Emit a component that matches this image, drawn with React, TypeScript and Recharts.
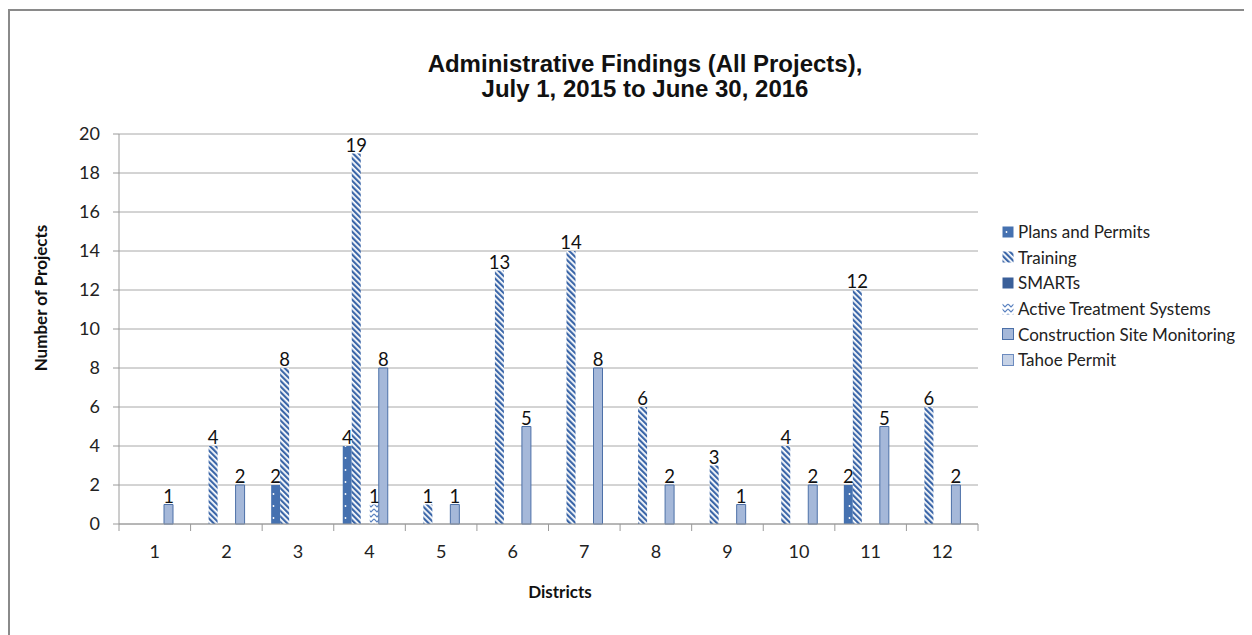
import { Bar, BarChart, CartesianGrid, LabelList, XAxis, YAxis } from 'recharts'

const districts = ['1', '2', '3', '4', '5', '6', '7', '8', '9', '10', '11', '12']
const plansPermits = [null, null, 2, 4, null, null, null, null, null, null, 2, null]
const training = [null, 4, 8, 19, 1, 13, 14, 6, 3, 4, 12, 6]
const smarts = [null, null, null, null, null, null, null, null, null, null, null, null]
const activeTreatment = [null, null, null, 1, null, null, null, null, null, null, null, null]
const siteMonitoring = [1, 2, null, 8, 1, 5, 8, 2, 1, 2, 5, 2]
const tahoePermit = [null, null, null, null, null, null, null, null, null, null, null, null]
const yTicks = [0, 2, 4, 6, 8, 10, 12, 14, 16, 18, 20]

const data = districts.map((d, i) => ({
  district: d,
  plans: plansPermits[i],
  training: training[i],
  smarts: smarts[i],
  ats: activeTreatment[i],
  csm: siteMonitoring[i],
  tahoe: tahoePermit[i],
}))

const series = [
  { key: 'plans', name: 'Plans and Permits', fill: 'url(#pDots)', stroke: 'none' },
  { key: 'training', name: 'Training', fill: 'url(#pStripes)', stroke: 'none' },
  { key: 'smarts', name: 'SMARTs', fill: '#3A5F99', stroke: 'none' },
  { key: 'ats', name: 'Active Treatment Systems', fill: 'url(#pChevron)', stroke: 'none' },
  { key: 'csm', name: 'Construction Site Monitoring', fill: '#A5B8D9', stroke: '#4C70A8' },
  { key: 'tahoe', name: 'Tahoe Permit', fill: '#C6D2E6', stroke: '#6C8BBF' },
]

const FONT = 'Lato, "Open Sans", sans-serif'
const BAND = 859 / 12

const XTick = (props: any) => {
  const { x, y, payload, index } = props
  return (
    <g>
      <line x1={x - BAND / 2} x2={x - BAND / 2} y1={y} y2={y + 7} stroke="#9A9A9A" />
      {index === districts.length - 1 && (
        <line x1={x + BAND / 2} x2={x + BAND / 2} y1={y} y2={y + 7} stroke="#9A9A9A" />
      )}
      <text x={x} y={y + 34} textAnchor="middle" fontSize={18} fontFamily={FONT} fill="#222">
        {payload.value}
      </text>
    </g>
  )
}

const barLabel = (props: any) => {
  const { x, y, width, value } = props
  if (value == null || value === 0) return null
  return (
    <text x={x + width / 2} y={y - 2} textAnchor="middle" fontSize={18.5} fontFamily={FONT} fill="#111">
      {value}
    </text>
  )
}

const LegendBox = () => (
  <div
    style={{
      position: 'absolute',
      left: 994,
      top: 211,
      width: 250,
      fontFamily: FONT,
      fontSize: 17,
      color: '#222',
      whiteSpace: 'nowrap',
    }}
  >
    {series.map(s => (
      <div key={s.key} style={{ display: 'flex', alignItems: 'center', height: 25.6 }}>
        <svg width={12} height={12} style={{ marginRight: 4 }}>
          <rect x={0.5} y={0.5} width={11} height={11} fill={s.fill} stroke={s.stroke} />
        </svg>
        <span>{s.name}</span>
      </div>
    ))}
  </div>
)

export default function App() {
  return (
    <div style={{ position: 'relative', width: 1244, height: 627, overflow: 'hidden' }}>
      <style>{'html, body { overflow: hidden; }'}</style>
      <div
        style={{
          position: 'absolute',
          left: 0,
          top: 1,
          width: 1300,
          height: 700,
          borderLeft: '2px solid #8A8A8A',
          borderTop: '2px solid #8A8A8A',
          boxSizing: 'border-box',
        }}
      />
      <div
        style={{
          position: 'absolute',
          left: 337,
          top: 43,
          width: 600,
          textAlign: 'center',
          fontFamily: '"Liberation Sans", Arial, sans-serif',
          fontWeight: 'bold',
          fontSize: 24,
          lineHeight: '25px',
          color: '#111',
        }}
      >
        Administrative Findings (All Projects),
        <br />
        July 1, 2015 to June 30, 2016
      </div>
      <div
        style={{
          position: 'absolute',
          left: 32,
          top: 290,
          transform: 'translate(-50%, -50%) rotate(-90deg)',
          whiteSpace: 'nowrap',
          fontFamily: FONT,
          fontWeight: 'bold',
          fontSize: 17,
          color: '#111',
        }}
      >
        Number of Projects
      </div>
      <div
        style={{
          position: 'absolute',
          left: 552,
          top: 583,
          transform: 'translate(-50%, -50%)',
          fontFamily: FONT,
          fontWeight: 'bold',
          fontSize: 17,
          color: '#111',
        }}
      >
        Districts
      </div>
      <div style={{ position: 'absolute', left: 0, top: 0 }}>
        <BarChart
          width={1244}
          height={627}
          data={data}
          margin={{ top: 126, right: 274, left: 0, bottom: 81 }}
          barSize={9}
          barGap={0}
        >
          <defs>
            <pattern id="pDots" patternUnits="userSpaceOnUse" width={9} height={12}>
              <rect width={9} height={12} fill="#4571B0" />
              <circle cx={4.5} cy={6} r={0.9} fill="#FFFFFF" />
            </pattern>
            <pattern
              id="pStripes"
              patternUnits="userSpaceOnUse"
              width={4}
              height={4}
              patternTransform="rotate(-45)"
            >
              <rect width={4} height={4} fill="#FFFFFF" />
              <rect width={2.2} height={4} fill="#3B66A8" />
            </pattern>
            <pattern id="pChevron" patternUnits="userSpaceOnUse" width={6} height={5}>
              <rect width={6} height={5} fill="#FFFFFF" />
              <path d="M0,1 L3,4 L6,1" stroke="#5A82C0" strokeWidth={1.2} fill="none" />
            </pattern>
          </defs>
          <CartesianGrid vertical={false} stroke="#A8A8A8" />
          <XAxis
            dataKey="district"
            height={30}
            axisLine={{ stroke: '#9A9A9A' }}
            tickLine={false}
            tickSize={0}
            tickMargin={0}
            interval={0}
            tick={<XTick />}
          />
          <YAxis
            width={111}
            domain={[0, 20]}
            ticks={yTicks}
            axisLine={{ stroke: '#9A9A9A' }}
            tickLine={{ stroke: '#9A9A9A' }}
            tickSize={6}
            tickMargin={13}
            tick={{ fontSize: 18, fontFamily: FONT, fill: '#222' }}
          />
          {series.map(s => (
            <Bar
              key={s.key}
              dataKey={s.key}
              name={s.name}
              fill={s.fill}
              stroke={s.stroke}
              strokeWidth={1}
              isAnimationActive={false}
            >
              <LabelList dataKey={s.key} content={barLabel} />
            </Bar>
          ))}
        </BarChart>
      </div>
      <LegendBox />
    </div>
  )
}
